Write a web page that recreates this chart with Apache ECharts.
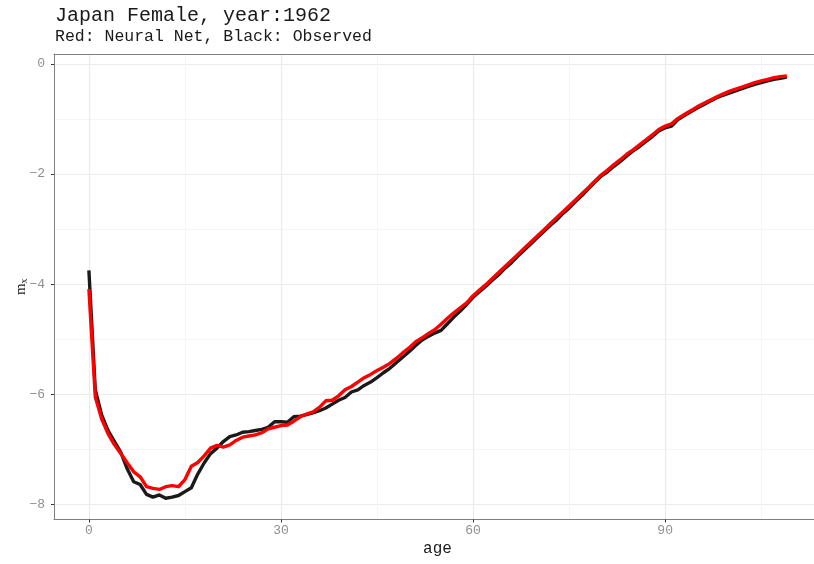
<!DOCTYPE html>
<html><head><meta charset="utf-8">
<script src="https://cdn.jsdelivr.net/npm/echarts@6/dist/echarts.min.js"></script>
<style>html,body{margin:0;padding:0;background:#fff}#c{width:814px;height:564px}</style>
</head><body><div id="c"></div>
<script>
const ages = Array.from({length: 110}, (_, i) => i);
const observed = [
-3.75,-5.92,-6.38,-6.66,-6.86,-7.06,-7.36,-7.59,-7.64,-7.82,
-7.87,-7.83,-7.89,-7.87,-7.84,-7.77,-7.70,-7.45,-7.25,-7.08,
-6.98,-6.86,-6.77,-6.74,-6.69,-6.68,-6.66,-6.64,-6.60,-6.50,
-6.50,-6.51,-6.41,-6.40,-6.37,-6.34,-6.30,-6.25,-6.18,-6.11,
-6.06,-5.96,-5.92,-5.84,-5.78,-5.70,-5.61,-5.53,-5.43,-5.33,
-5.23,-5.12,-5.02,-4.95,-4.89,-4.84,-4.72,-4.60,-4.49,-4.37,
-4.24,-4.14,-4.04,-3.93,-3.83,-3.71,-3.61,-3.49,-3.38,-3.27,
-3.16,-3.05,-2.94,-2.84,-2.72,-2.62,-2.50,-2.39,-2.27,-2.15,
-2.04,-1.96,-1.86,-1.77,-1.67,-1.58,-1.50,-1.41,-1.32,-1.22,
-1.16,-1.13,-1.01,-0.94,-0.87,-0.80,-0.74,-0.68,-0.62,-0.57,
-0.53,-0.49,-0.45,-0.41,-0.37,-0.34,-0.31,-0.28,-0.26,-0.24];
const neuralNet = [
-4.09,-6.05,-6.45,-6.72,-6.92,-7.08,-7.25,-7.41,-7.50,-7.68,
-7.71,-7.73,-7.68,-7.66,-7.68,-7.55,-7.31,-7.24,-7.12,-6.98,
-6.93,-6.96,-6.92,-6.84,-6.78,-6.76,-6.74,-6.70,-6.63,-6.60,
-6.57,-6.56,-6.49,-6.41,-6.36,-6.32,-6.24,-6.12,-6.11,-6.03,
-5.92,-5.86,-5.78,-5.70,-5.64,-5.57,-5.51,-5.44,-5.35,-5.25,
-5.16,-5.05,-4.98,-4.90,-4.83,-4.73,-4.62,-4.52,-4.43,-4.34,
-4.21,-4.11,-4.01,-3.90,-3.79,-3.68,-3.57,-3.46,-3.35,-3.24,
-3.13,-3.02,-2.91,-2.80,-2.69,-2.58,-2.47,-2.36,-2.25,-2.13,
-2.02,-1.93,-1.83,-1.74,-1.64,-1.56,-1.47,-1.38,-1.29,-1.19,
-1.13,-1.09,-0.99,-0.92,-0.85,-0.78,-0.72,-0.66,-0.60,-0.55,
-0.50,-0.46,-0.42,-0.38,-0.34,-0.31,-0.28,-0.25,-0.23,-0.22];
const xMajorTicks = [0, 30, 60, 90];
const xMinorTicks = [15, 45, 75, 105];
const yMajorTicks = [-8, -6, -4, -2, 0];
const yMinorTicks = [-7, -5, -3, -1];

const chart = echarts.init(document.getElementById('c'), null, {renderer: 'canvas'});
const mono = 'Liberation Mono';
const tickColor = '#8f8f8f';
const borderColor = '#7f7f7f';
const majorGrid = {show: true, lineStyle: {color: '#EBEBEB', width: 1.2}};
const minorGrid = {show: true, lineStyle: {color: '#F2F2F2', width: 0.8}};
const xMin = -5.45, xMax = 113.25, yMin = -8.276, yMax = 0.18;

chart.setOption({
  animation: false,
  backgroundColor: '#fff',
  title: {
    text: 'Japan Female, year:1962',
    subtext: 'Red: Neural Net, Black: Observed',
    left: 55, top: 6, padding: 0, itemGap: 2,
    textStyle: {fontFamily: mono, fontSize: 20, fontWeight: 'normal', color: '#1a1a1a'},
    subtextStyle: {fontFamily: mono, fontSize: 16.5, color: '#1a1a1a'}
  },
  grid: {left: 54, top: 54, right: 0, bottom: 44.5, show: false, containLabel: false, outerBoundsMode: 'none'},
  xAxis: [{
    type: 'value', min: xMin, max: xMax, position: 'bottom',
    name: 'age', nameLocation: 'middle', nameGap: 21, nameMoveOverlap: false,
    nameTextStyle: {fontFamily: mono, fontSize: 16, color: '#1a1a1a', padding: [0, 0, 0, 7]},
    axisLine: {show: true, onZero: false, lineStyle: {color: borderColor, width: 1}},
    axisTick: {show: true, length: 3, customValues: xMajorTicks, lineStyle: {color: '#333'}},
    axisLabel: {customValues: xMajorTicks, margin: 5, fontFamily: mono, fontSize: 13, color: tickColor},
    splitLine: majorGrid
  }, {
    type: 'value', min: xMin, max: xMax, position: 'top',
    axisLine: {show: true, onZero: false, lineStyle: {color: borderColor, width: 1}},
    axisTick: {show: false, customValues: xMinorTicks},
    axisLabel: {show: false, customValues: xMinorTicks},
    splitLine: minorGrid
  }],
  yAxis: [{
    type: 'value', min: yMin, max: yMax, position: 'left',
    name: '{m|m}{s|x}', nameLocation: 'middle', nameGap: 25, nameRotate: 90, nameMoveOverlap: false,
    nameTextStyle: {rich: {
      m: {fontFamily: 'Liberation Serif', fontSize: 15, color: '#1a1a1a'},
      s: {fontFamily: 'Liberation Serif', fontSize: 10, color: '#1a1a1a', padding: [6, 0, 0, 0]}
    }},
    axisLine: {show: true, onZero: false, lineStyle: {color: borderColor, width: 1}},
    axisTick: {show: true, length: 3, customValues: yMajorTicks, lineStyle: {color: '#333'}},
    axisLabel: {customValues: yMajorTicks, margin: 9, fontFamily: mono, fontSize: 13, color: tickColor,
      formatter: v => (v < 0 ? '\u2212' + Math.abs(v) : String(v))},
    splitLine: majorGrid
  }, {
    type: 'value', min: yMin, max: yMax, position: 'right',
    axisLine: {show: false}, axisTick: {show: false, customValues: yMinorTicks},
    axisLabel: {show: false, customValues: yMinorTicks},
    splitLine: minorGrid
  }],
  series: [{
    name: 'Observed', type: 'line', xAxisIndex: 0, yAxisIndex: 0,
    data: ages.map((a, i) => [a, observed[i]]),
    showSymbol: false, lineStyle: {color: '#1a1a1a', width: 3.4, cap: 'butt', join: 'round'}, z: 3
  }, {
    name: 'Neural Net', type: 'line', xAxisIndex: 0, yAxisIndex: 0,
    data: ages.map((a, i) => [a, neuralNet[i]]),
    showSymbol: false, lineStyle: {color: '#ff0000', width: 3.4, cap: 'butt', join: 'round'}, z: 4
  }]
});
</script></body></html>
